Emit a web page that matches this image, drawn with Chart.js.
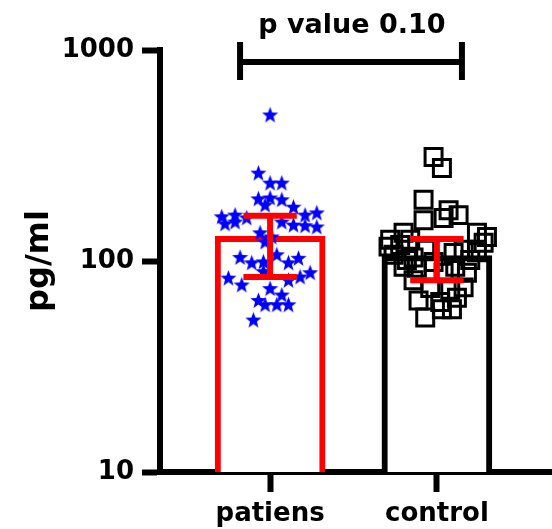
<!DOCTYPE html>
<html>
<head>
<meta charset="utf-8">
<script src="https://cdn.jsdelivr.net/npm/chart.js@4"></script>
<style>
  body { margin: 0; background: #fff; }
  canvas { display: block; }
</style>
</head>
<body>
<canvas id="chart" width="552" height="529"></canvas>
<script>
// groups and summary values
const categories = ['patiens', 'control'];
const barMeans = [131, 106];
const errLow = [84, 81];
const errHigh = [164, 127];
const yTicks = [10, 100, 1000];
const pValueText = 'p value 0.10';

// individual points: offset from the group centre, value in pg/ml
const patiensOffsets = [0, -0.07, 0, 0.07, -0.07, 0, 0.07, 0.14, -0.29, -0.21, -0.14, -0.27, -0.21, 0.21, 0.28, 0.21, 0.28, 0.14, 0.07, -0.06, 0.01, -0.03, -0.18, -0.11, -0.04, 0.04, 0.11, 0.17, 0.24, -0.25, -0.17, 0, 0.07, -0.07, -0.03, 0.04, 0.11, -0.1, 0.18, 0.11, -0.04, -0.03];
const patiensValues = [492, 261, 234, 234, 197, 199, 195, 180, 162, 165, 160, 150, 153, 165, 169, 147, 145, 148, 153, 136, 130, 123, 104, 98, 99, 107, 98, 103, 88, 83, 77, 74, 69, 65, 62, 62, 62, 52.5, 84, 81, 89, 184];
const controlOffsets = [-0.02, 0.03, -0.08, 0.07, 0.13, -0.08, 0.04, -0.2, 0.24, -0.28, 0.3, -0.29, -0.22, -0.16, 0.28, 0.24, -0.14, -0.07, 0.1, 0.16, -0.2, -0.12, 0.11, 0.18, 0.04, -0.14, -0.04, 0.08, 0.16, -0.11, 0.02, 0.12, -0.07, 0.03, 0.09, 0.2, -0.18, -0.02, -0.26];
const controlValues = [311, 276, 195, 174, 165, 156, 160, 136, 136, 126, 130, 117, 119, 126, 122, 110, 104, 113, 109, 113, 94, 93, 94, 88, 88, 81, 74.5, 73, 75, 65, 64, 67, 54, 59, 59, 101, 101, 99, 107];

// bracket for the comparison
const bracketFrom = -0.18;
const bracketTo = 1.15;
const bracketY = 877;
const bracketTop = 1090;
const bracketBottom = 720;
const pLabelX = 0.49;
const pLabelY = 1200;

const FONT = '"DejaVu Sans", sans-serif';

// filled five point star used for the patiens points
function makeStar(size, color) {
    const c = document.createElement('canvas');
    c.width = size;
    c.height = size;
    const g = c.getContext('2d');
    const cx = size / 2, cy = size / 2 + 0.5;
    const outer = size / 2, inner = outer * 0.42;
    g.beginPath();
    for (let i = 0; i < 10; i++) {
        const r = i % 2 === 0 ? outer : inner;
        const a = -Math.PI / 2 + i * Math.PI / 5;
        const px = cx + r * Math.cos(a), py = cy + r * Math.sin(a);
        if (i === 0) g.moveTo(px, py); else g.lineTo(px, py);
    }
    g.closePath();
    g.fillStyle = color;
    g.fill();
    return c;
}
const starImg = makeStar(17, '#0000ff');

const errorBars = {
    id: 'errorBars',
    afterDatasetsDraw(chart) {
        const { ctx, scales: { x, y } } = chart;
        const cap = 0.16;
        ctx.save();
        ctx.strokeStyle = '#ff0000';
        ctx.lineWidth = 6;
        categories.forEach((c, i) => {
            const cx = x.getPixelForValue(i);
            const lo = y.getPixelForValue(errLow[i]);
            const hi = y.getPixelForValue(errHigh[i]);
            ctx.beginPath();
            ctx.moveTo(cx, lo);
            ctx.lineTo(cx, hi);
            ctx.moveTo(x.getPixelForValue(i - cap), hi);
            ctx.lineTo(x.getPixelForValue(i + cap), hi);
            ctx.moveTo(x.getPixelForValue(i - cap), lo);
            ctx.lineTo(x.getPixelForValue(i + cap), lo);
            ctx.stroke();
        });
        ctx.restore();
    }
};

const bracket = {
    id: 'bracket',
    afterDraw(chart) {
        const { ctx, scales: { x, y } } = chart;
        const x1 = x.getPixelForValue(bracketFrom);
        const x2 = x.getPixelForValue(bracketTo);
        const yl = y.getPixelForValue(bracketY);
        const yt = y.getPixelForValue(bracketTop);
        const yb = y.getPixelForValue(bracketBottom);
        ctx.save();
        ctx.strokeStyle = '#000';
        ctx.lineWidth = 6;
        ctx.beginPath();
        ctx.moveTo(x1, yl);
        ctx.lineTo(x2, yl);
        ctx.moveTo(x1, yt);
        ctx.lineTo(x1, yb);
        ctx.moveTo(x2, yt);
        ctx.lineTo(x2, yb);
        ctx.stroke();
        ctx.fillStyle = '#000';
        ctx.font = 'bold 27px ' + FONT;
        ctx.textAlign = 'center';
        ctx.textBaseline = 'alphabetic';
        ctx.fillText(pValueText, x.getPixelForValue(pLabelX), y.getPixelForValue(pLabelY));
        ctx.restore();
    }
};

new Chart(document.getElementById('chart'), {
    type: 'bar',
    data: {
        datasets: [
            {
                type: 'scatter',
                data: patiensValues.map((v, i) => ({ x: 0 + patiensOffsets[i], y: v })),
                pointStyle: starImg,
                order: 1
            },
            {
                type: 'scatter',
                data: controlValues.map((v, i) => ({ x: 1 + controlOffsets[i], y: v })),
                pointStyle: 'rect',
                pointRadius: 12,
                borderWidth: 3,
                borderColor: '#000',
                backgroundColor: 'rgba(0,0,0,0)',
                order: 2
            },
            {
                data: categories.map((c, i) => ({ x: i, y: barMeans[i] })),
                backgroundColor: '#fff',
                borderColor: ['#ff0000', '#000'],
                borderWidth: 6,
                borderSkipped: 'start',
                barThickness: 110,
                order: 3
            }
        ]
    },
    options: {
        responsive: false,
        animation: false,
        events: [],
        layout: { autoPadding: false, padding: { top: 50, right: 0, left: 0, bottom: 0 } },
        plugins: {
            legend: { display: false },
            tooltip: { enabled: false }
        },
        scales: {
            x: {
                type: 'linear',
                min: -0.66,
                max: 1.69,
                offset: false,
                afterBuildTicks: scale => {
                    scale.ticks = categories.map((c, i) => ({ value: i }));
                },
                afterFit: scale => {
                    scale.height = 57;
                    scale.paddingLeft = 0;
                    scale.paddingRight = 0;
                },
                grid: {
                    offset: false,
                    drawOnChartArea: false,
                    tickLength: 20,
                    tickWidth: 6,
                    tickColor: '#000'
                },
                border: { color: '#000', width: 6 },
                ticks: {
                    color: '#000',
                    padding: 7,
                    font: { family: FONT, size: 26, weight: 'bold' },
                    callback: value => categories[value]
                }
            },
            y: {
                type: 'logarithmic',
                min: 10,
                max: 1000,
                afterBuildTicks: scale => {
                    scale.ticks = yTicks.map(v => ({ value: v, major: true }));
                },
                afterFit: scale => { scale.width = 160; },
                grid: {
                    drawOnChartArea: false,
                    tickLength: 18,
                    tickWidth: 6,
                    tickColor: '#000'
                },
                border: { color: '#000', width: 6 },
                ticks: {
                    color: '#000',
                    padding: 8,
                    font: { family: FONT, size: 26, weight: 'bold' },
                    callback: value => String(value)
                },
                title: {
                    display: true,
                    text: 'pg/ml',
                    color: '#000',
                    padding: { top: 20, bottom: 0 },
                    font: { family: FONT, size: 32, weight: 'bold' }
                }
            }
        }
    },
    plugins: [errorBars, bracket]
});
</script>
</body>
</html>
